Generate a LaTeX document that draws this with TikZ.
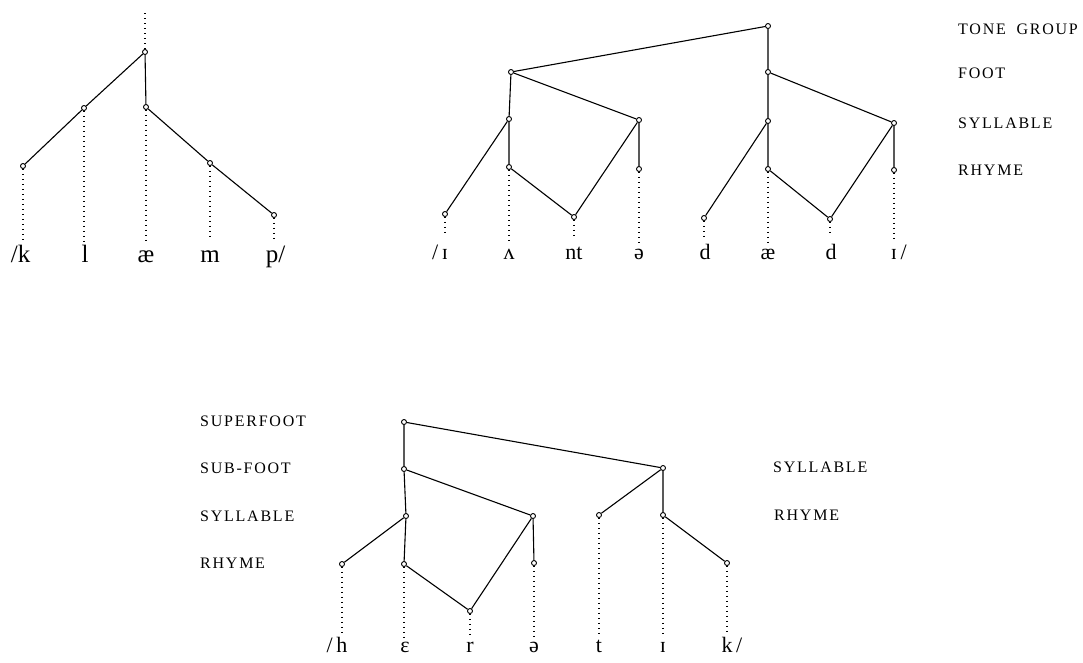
\documentclass[tikz,border=0pt]{standalone}
\usepackage{fontspec}
\setmainfont{Liberation Serif}
\newfontfamily\lblfont[LetterSpace=11]{Liberation Serif}
\begin{document}
\begin{tikzpicture}[x=1pt,y=-1pt,
  nd/.style={circle,draw,fill=white,inner sep=0pt,minimum size=5pt,line width=0.9pt},
  edge/.style={line width=1.1pt},
  dots/.style={line width=1.7pt,dash pattern=on 1.4pt off 3.6pt},
  ph/.style={anchor=base,inner sep=0pt,font=\fontsize{22}{26}\selectfont},
  phL/.style={anchor=base,inner sep=0pt,font=\fontsize{25}{29}\selectfont},
  lbl/.style={anchor=west,inner sep=0pt,font=\lblfont\fontsize{16}{18}\selectfont}]
\useasboundingbox (0,0) rectangle (1083,662);

% ---------- left tree ----------
\node[nd] (A) at (145,52) {};
\coordinate (Atop) at (145,13);
\node[nd] (B) at (84,108) {};
\node[nd] (C) at (146,107) {};
\node[nd] (D) at (23,166) {};
\node[nd] (E) at (210,163) {};
\node[nd] (F) at (274,215) {};
\coordinate (Db) at (23,243);
\coordinate (Bb) at (84,245);
\coordinate (Cb) at (146,243);
\coordinate (Eb) at (210,239);
\coordinate (Fb) at (274,239);
\node[phL] (lk) at (24,262) {\llap{/}k};
\node[phL] (ll) at (85,262) {l};
\node[phL] (lae) at (146,262) {æ};
\node[phL] (lm) at (210,262) {m};
\node[phL] (lp) at (272,262) {p\rlap{/}};
\draw[edge] (A) -- (B) (A) -- (C) (B) -- (D) (C) -- (E) (E) -- (F);
\draw[dots] (Atop) -- (A) (B) -- (Bb) (C) -- (Cb) (D) -- (Db) (E) -- (Eb) (F) -- (Fb);

% ---------- middle tree ----------
\node[nd] (TG) at (768,26) {};
\node[nd] (F1) at (511,72) {};
\node[nd] (F2) at (768,72) {};
\node[nd] (S1) at (509,119) {};
\node[nd] (R1) at (509,167) {};
\node[nd] (ri) at (445,214) {};
\node[nd] (nt) at (574,217) {};
\node[nd] (S2) at (639,120) {};
\node[nd] (R2) at (639,169) {};
\node[nd] (d1) at (704,218) {};
\node[nd] (S3) at (768,121) {};
\node[nd] (R3) at (768,169) {};
\node[nd] (d2) at (830,219) {};
\node[nd] (S4) at (894,123) {};
\node[nd] (R4) at (894,170) {};
\draw[edge] (TG) -- (F1) (TG) -- (F2)
  (F1) -- (S1) (F1) -- (S2) (S1) -- (ri) (S1) -- (R1) (R1) -- (nt) (nt) -- (S2) (S2) -- (R2)
  (F2) -- (S3) (F2) -- (S4) (S3) -- (d1) (S3) -- (R3) (R3) -- (d2) (d2) -- (S4) (S4) -- (R4);
\coordinate (rib) at (445,234);
\coordinate (R1b) at (509,242);
\coordinate (ntb) at (574,238);
\coordinate (R2b) at (639,243);
\coordinate (d1b) at (704,239);
\coordinate (R3b) at (768,242);
\coordinate (d2b) at (830,236);
\coordinate (R4b) at (894,242);
\draw[dots] (ri) -- (rib) (R1) -- (R1b) (nt) -- (ntb) (R2) -- (R2b)
  (d1) -- (d1b) (R3) -- (R3b) (d2) -- (d2b) (R4) -- (R4b);
\node[ph] (mi) at (445,259) {\llap{/\,}ɪ};
\node[ph] (mv) at (509,259) {ʌ};
\node[ph] (mnt) at (574,259) {nt};
\node[ph] (ms) at (639,259) {ə};
\node[ph] (md1) at (705,259) {d};
\node[ph] (mae) at (768,259) {æ};
\node[ph] (md2) at (831,259) {d};
\node[ph] (mi2) at (894,259) {ɪ\rlap{\,/}};
\node[lbl] (tg) at (958,29) {TONE\hspace{5pt} GROUP};
\node[lbl] (ft) at (958,73) {FOOT};
\node[lbl] (sy) at (958,123) {SYLLABLE};
\node[lbl] (rh) at (958,170) {RHYME};

% ---------- bottom tree ----------
\node[nd] (SF) at (404,422) {};
\node[nd] (SB) at (404,469) {};
\node[nd] (B1) at (406,516) {};
\node[nd] (bh) at (342,564) {};
\node[nd] (be) at (404,564) {};
\node[nd] (br) at (470,611) {};
\node[nd] (B2) at (533,516) {};
\node[nd] (bs) at (534,563) {};
\node[nd] (Sy) at (663,468) {};
\node[nd] (bt) at (599,515) {};
\node[nd] (bi) at (663,515) {};
\node[nd] (bk) at (727,563) {};
\draw[edge] (SF) -- (SB) (SF) -- (Sy) (SB) -- (B1) (SB) -- (B2) (B1) -- (bh) (B1) -- (be)
  (be) -- (br) (br) -- (B2) (B2) -- (bs) (Sy) -- (bt) (Sy) -- (bi) (bi) -- (bk);
\coordinate (bhb) at (342,635);
\coordinate (beb) at (404,637);
\coordinate (brb) at (470,637);
\coordinate (bsb) at (534,637);
\coordinate (btb) at (599,637);
\coordinate (bib) at (663,637);
\coordinate (bkb) at (727,635);
\draw[dots] (bh) -- (bhb) (be) -- (beb) (br) -- (brb) (bs) -- (bsb) (bt) -- (btb) (bi) -- (bib) (bk) -- (bkb);
\node[ph] (lh) at (342,652) {\llap{/\,}h};
\node[ph] (le) at (405,652) {ɛ};
\node[ph] (lr) at (470,652) {r};
\node[ph] (ls) at (534,652) {ə};
\node[ph] (lt) at (599,652) {t};
\node[ph] (li) at (663,652) {ɪ};
\node[ph] (lkk) at (727,652) {k\rlap{\,/}};
\node[lbl] (sf) at (200,421) {SUPERFOOT};
\node[lbl] (sb) at (200,468) {SUB-FOOT};
\node[lbl] (sl) at (200,516) {SYLLABLE};
\node[lbl] (rm) at (200,563) {RHYME};
\node[lbl] (sl2) at (773,467) {SYLLABLE};
\node[lbl] (rm2) at (774,515) {RHYME};
\end{tikzpicture}
\end{document}
